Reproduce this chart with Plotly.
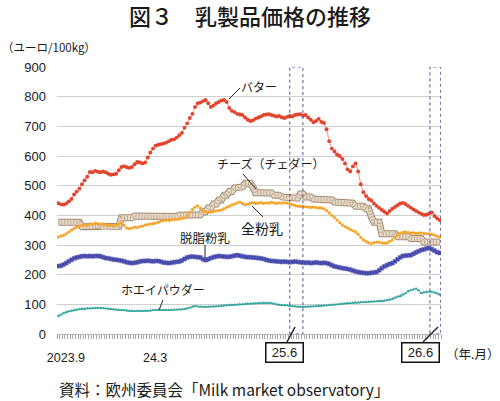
import plotly.graph_objects as go

# ---- data (weekly, 2023.9 - 2026.6), euro / 100kg ----
butter = [441, 437, 436, 440, 447, 455, 470, 480, 490, 505,
          518, 530, 546, 545, 550, 547, 545, 548, 545, 540,
          537, 538, 540, 552, 563, 566, 562, 560, 563, 572,
          580, 578, 575, 578, 595, 612, 625, 635, 638, 640,
          642, 645, 650, 655, 656, 662, 670, 678, 695, 710,
          728, 742, 765, 778, 780, 785, 789, 778, 765, 770,
          778, 782, 787, 789, 782, 762, 752, 748, 742, 740,
          738, 730, 722, 718, 720, 726, 730, 733, 738, 740,
          741, 738, 736, 733, 735, 730, 728, 732, 735, 733,
          738, 740, 741, 736, 738, 730, 722, 714, 718, 725,
          715, 711, 690, 650, 625, 615, 605, 600, 590, 575,
          555, 548, 565, 575, 548, 505, 478, 465, 455, 450,
          440, 432, 425, 418, 412, 406, 415, 422, 428, 434,
          440, 442, 438, 432, 426, 420, 415, 410, 405, 401,
          402, 406, 410, 398, 390, 384]

cheese = [377, 377, 377, 377, 377, 377, 377, 377, 377, 362,
          362, 362, 362, 365, 365, 365, 365, 360, 360, 360,
          360, 363, 363, 363, 392, 392, 392, 392, 392, 398,
          398, 398, 398, 395, 395, 395, 395, 394, 394, 394,
          394, 394, 396, 396, 396, 396, 400, 400, 400, 400,
          400, 402, 402, 402, 402, 412, 412, 425, 425, 438,
          438, 452, 452, 468, 468, 480, 480, 492, 492, 496,
          496, 508, 508, 508, 495, 476, 476, 476, 476, 475,
          475, 475, 468, 468, 468, 462, 462, 462, 462, 458,
          458, 458, 472, 472, 462, 462, 462, 455, 455, 455,
          455, 452, 452, 452, 452, 445, 445, 445, 445, 441,
          441, 441, 441, 431, 431, 431, 431, 422, 422, 395,
          377, 377, 377, 338, 338, 338, 338, 338, 338, 328,
          328, 328, 328, 328, 322, 322, 322, 322, 322, 310,
          310, 310, 310, 310, 310, 310]

wmp = [327, 330, 333, 338, 344, 350, 356, 360, 364, 366,
       369, 367, 371, 370, 373, 372, 370, 371, 369, 366,
       367, 365, 368, 371, 374, 366, 357, 355, 357, 360,
       359, 362, 364, 367, 369, 371, 372, 374, 377, 380,
       382, 384, 383, 385, 386, 386, 388, 390, 391, 398,
       410, 420, 428, 432, 424, 415, 412, 410, 411, 413,
       415, 416, 418, 422, 427, 431, 435, 438, 442, 445,
       440, 436, 438, 441, 443, 440, 441, 443, 440, 442,
       441, 444, 442, 440, 442, 441, 443, 441, 438, 436,
       433, 431, 430, 431, 429, 428, 427, 428, 426, 425,
       425, 422, 416, 408, 400, 392, 384, 375, 367, 362,
       357, 352, 348, 344, 336, 326, 318, 312, 307, 305,
       308, 310, 310, 307, 306, 307, 312, 317, 326, 334,
       340, 343, 344, 342, 340, 341, 339, 340, 341, 339,
       338, 338, 336, 333, 330, 327]

smp = [229, 230, 234, 239, 245, 250, 255, 258, 260, 262,
       263, 262, 263, 262, 263, 263, 262, 259, 256, 255,
       253, 251, 250, 249, 247, 245, 242, 240, 239, 240,
       242, 244, 246, 246, 247, 246, 245, 246, 246, 244,
       241, 240, 239, 240, 242, 243, 244, 248, 253, 258,
       260, 261, 260, 259, 258, 252, 249, 252, 256, 259,
       261, 263, 262, 261, 260, 260, 262, 264, 266, 264,
       262, 260, 259, 259, 258, 257, 256, 255, 253, 250,
       248, 246, 246, 245, 244, 243, 244, 243, 242, 243,
       244, 243, 242, 241, 240, 241, 239, 240, 241, 240,
       239, 240, 239, 236, 232, 228, 226, 224, 222, 221,
       219, 217, 214, 211, 209, 207, 206, 205, 205, 206,
       207, 209, 215, 222, 228, 232, 236, 239, 245, 252,
       258, 263, 264, 265, 266, 270, 275, 279, 283, 285,
       288, 290, 286, 281, 276, 273]

whey = [61, 65, 70, 74, 76, 78, 80, 82, 84, 85,
        85, 86, 86, 87, 87, 88, 88, 87, 86, 85,
        84, 83, 82, 81, 80, 80, 79, 78, 78, 77,
        78, 78, 77, 78, 78, 79, 80, 80, 81, 81,
        80, 81, 80, 81, 82, 82, 83, 83, 84, 86,
        89, 92, 94, 93, 92, 91, 91, 92, 92, 93,
        93, 94, 95, 96, 96, 97, 98, 98, 99, 100,
        100, 101, 102, 102, 103, 103, 104, 104, 105, 104,
        105, 104, 102, 100, 98, 97, 97, 96, 95, 94,
        93, 92, 91, 91, 92, 92, 93, 93, 94, 95,
        95, 96, 96, 97, 98, 99, 100, 101, 102, 103,
        104, 104, 105, 106, 106, 107, 107, 108, 108, 109,
        110, 110, 111, 111, 112, 114, 116, 118, 122, 126,
        128, 133, 137, 144, 148, 150, 153, 147, 138, 140,
        142, 143, 142, 140, 137, 133]

weeks = list(range(len(butter)))

x_tick_pos = [2.9, 36.8]
x_tick_text = ["2023.9", "24.3"]
y_tick_vals = [0, 100, 200, 300, 400, 500, 600, 700, 800, 900]

# ---- geometry helpers (pixel -> paper) ----
W, H = 500, 401
L, R, T, B = 57, 59, 67, 67
PW, PH = W - L - R, H - T - B


def px(xp):
    return (xp - L) / PW


def py(yp):
    return (H - B - yp) / PH


JP = "Noto Sans CJK JP, Noto Sans, sans-serif"
NUM = "Liberation Sans, Arial, sans-serif"

fig = go.Figure()

# cheese: textured ribbon (outer brown edge, beige body, dotted hatch)
fig.add_trace(go.Scatter(x=weeks, y=cheese, mode="lines",
                         line=dict(color="#A3866A", width=7), hoverinfo="skip"))
fig.add_trace(go.Scatter(x=weeks, y=cheese, mode="lines",
                         line=dict(color="#E6DACA", width=5), hoverinfo="skip"))
fig.add_trace(go.Scatter(x=weeks, y=cheese, mode="lines",
                         line=dict(color="#BFA88E", width=4, dash="1px,2px"), hoverinfo="skip"))

# whole milk powder
fig.add_trace(go.Scatter(
    x=weeks, y=wmp, mode="lines+markers",
    line=dict(color="#F6B24C", width=0.5),
    marker=dict(symbol="circle", size=3.2, color="#F5A52C"),
    hoverinfo="skip"))

# skim milk powder
fig.add_trace(go.Scatter(
    x=weeks, y=smp, mode="lines+markers",
    line=dict(color="#3C40A0", width=1),
    marker=dict(symbol="square", size=4.0, color="#3F44A6",
                line=dict(color="#7074C6", width=0.5)),
    hoverinfo="skip"))

# whey powder
fig.add_trace(go.Scatter(
    x=weeks, y=whey, mode="lines+markers",
    line=dict(color="#2E9E97", width=0.7),
    marker=dict(symbol="triangle-up", size=3.4, color="#2FA39C"),
    hoverinfo="skip"))

# butter
fig.add_trace(go.Scatter(
    x=weeks, y=butter, mode="lines+markers",
    line=dict(color="#E2533F", width=0.6),
    marker=dict(symbol="circle", size=3.9, color="#E5432D"),
    hoverinfo="skip"))

shapes = []
# dotted highlight rectangles
for x0, x1 in [(88.0, 93.0), (141.3, 145.4)]:
    shapes.append(dict(type="rect", xref="x", yref="y", x0=x0, x1=x1, y0=0, y1=900,
                       line=dict(color="#4A4F9C", width=1, dash="dot"), layer="above"))

# leader lines
leaders = [
    ((229, 99), (240, 88), 1),
    ((243, 174), (256, 189), 1),
    ((252, 206), (263, 217), 1),
    ((205, 245), (205, 258), 1),
    ((163, 300), (159, 310), 1),
    ((287, 342), (295, 327), 1.5),
    ((423, 342), (438, 327), 1.5),
]
for (xa, ya), (xb, yb), w in leaders:
    shapes.append(dict(type="line", xref="paper", yref="paper",
                       x0=px(xa), y0=py(ya), x1=px(xb), y1=py(yb),
                       line=dict(color="#222222", width=w)))

ann = []


def text(t, xc, yc, size, family=JP, xanchor="center", color="#1a1a1a", weight=None, **kw):
    f = dict(family=family, size=size, color=color)
    if weight is not None:
        f["weight"] = weight
    ann.append(dict(text=t, xref="paper", yref="paper", x=px(xc), y=py(yc),
                    xanchor=xanchor, yanchor="middle", showarrow=False,
                    font=f, **kw))


text("図３　乳製品価格の推移", 250, 15, 22, weight=500)
text("（ユーロ/100kg）", 0, 47, 11.5, xanchor="left")
text("（年.月）", 472, 353, 12.5)
text("資料：欧州委員会「Milk market observatory」", 57, 389, 15.5, xanchor="left")
text("バター", 259, 87, 12)
text("チーズ（チェダー）", 270, 163, 12)
text("全粉乳", 262, 228, 14)
text("脱脂粉乳", 205, 237, 12.5)
text("ホエイパウダー", 163, 289, 12)
text("25.6", 284.5, 352.5, 13, family=NUM, bordercolor="#111111", borderwidth=1.5,
     borderpad=0, width=36, height=18, bgcolor="white")
text("26.6", 420, 352.5, 13, family=NUM, bordercolor="#111111", borderwidth=1.5,
     borderpad=0, width=36, height=18, bgcolor="white")

fig.update_layout(
    width=W, height=H,
    margin=dict(l=L, r=R, t=T, b=B, pad=0),
    paper_bgcolor="white", plot_bgcolor="white",
    showlegend=False, hovermode=False,
    shapes=shapes, annotations=ann,
    font=dict(family=NUM, color="#1a1a1a"),
)

fig.update_xaxes(
    range=[-0.5, 145.5], showgrid=False, zeroline=False,
    showline=True, linecolor="#b5b5b5", linewidth=1,
    tickmode="array", tickvals=x_tick_pos, ticktext=x_tick_text,
    ticks="", ticklabelstandoff=12,
    tickfont=dict(family=NUM, size=12.5, color="#1a1a1a"),
    minor=dict(tickmode="linear", tick0=-0.5, dtick=1, ticks="outside",
               ticklen=4, tickcolor="#a8a8a8", tickwidth=0.8, showgrid=False),
)

fig.update_yaxes(
    range=[0, 900], tickmode="array", tickvals=y_tick_vals,
    showgrid=True, gridcolor="#cfcfcf", gridwidth=1,
    zeroline=False, showline=False, ticks="", ticklabelstandoff=10,
    tickfont=dict(family=NUM, size=13, color="#1a1a1a"),
)

fig.write_html("out.html", config={"displayModeBar": False},
               post_script="document.body.style.margin='0px';document.body.style.overflow='hidden';")
